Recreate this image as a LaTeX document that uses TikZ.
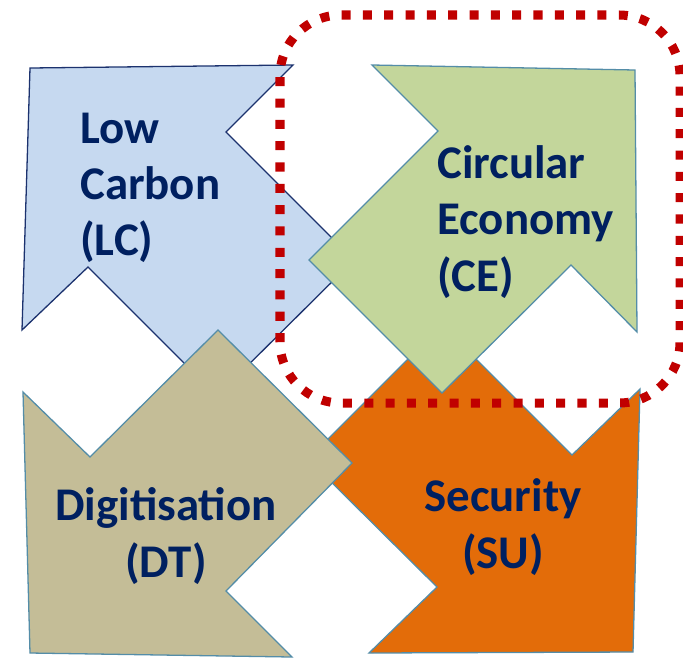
\documentclass[tikz,border=0pt]{standalone}
\usepackage{fontspec}
\setmainfont{Carlito}
\definecolor{navy}{RGB}{0,32,96}
\definecolor{lcblue}{RGB}{198,217,240}
\definecolor{ceggreen}{RGB}{195,214,155}
\definecolor{dttan}{RGB}{196,189,151}
\definecolor{suorange}{RGB}{227,108,9}
\definecolor{edgeblue}{RGB}{84,141,168}
\definecolor{edgenavy}{RGB}{28,50,110}
\definecolor{boxred}{RGB}{192,0,0}
\tikzset{
  pillar/.style={line width=1.1pt,line join=miter},
  label/.style={inner sep=0pt,text=navy,font=\bfseries\fontsize{40}{48}\selectfont}
}
\begin{document}
\begin{tikzpicture}[x=0.03cm,y=-0.03cm]
			\useasboundingbox (0,0) rectangle (683,661);
			% low carbon, pointing down-right
			\draw[pillar,fill=lcblue,draw=edgenavy] (30,68) -- (293,65) -- (226,132) -- (354,260) -- (217,396) -- (88,267) -- (22,330) -- cycle;
			% security, pointing up-left
			\draw[pillar,fill=suorange,draw=edgeblue] (442,325) -- (572,455) -- (640,389) -- (633,652) -- (369,653) -- (437,587) -- (308,459) -- cycle;
			% circular economy, pointing down-left
			\draw[pillar,fill=ceggreen,draw=edgeblue] (372,65) -- (635,70) -- (637,332) -- (571,265) -- (442,393) -- (309,260) -- (438,131) -- cycle;
			% digitisation, pointing up-right
			\draw[pillar,fill=dttan,draw=edgeblue] (23,392) -- (90,457) -- (218,330) -- (352,463) -- (226,591) -- (292,657) -- (30,653) -- cycle;
			\node[label,align=left,anchor=west] (LC) at (80,188) {Low\\Carbon\\(LC)};
			\node[label,align=left,anchor=west] (CE) at (437,222) {Circular\\Economy\\(CE)};
			\node[label,align=center] (DT) at (166,536) {Digitisation\\(DT)};
			\node[label,align=center] (SU) at (503,527) {Security\\(SU)};
			% focus box round CE
			\draw[boxred,line width=7.7pt,dash pattern=on 7.7pt off 10.5pt,rounded corners=52] (280,403) -- (280,15) -- (680,15) -- (680,403) -- cycle;
		\end{tikzpicture}
\end{document}
